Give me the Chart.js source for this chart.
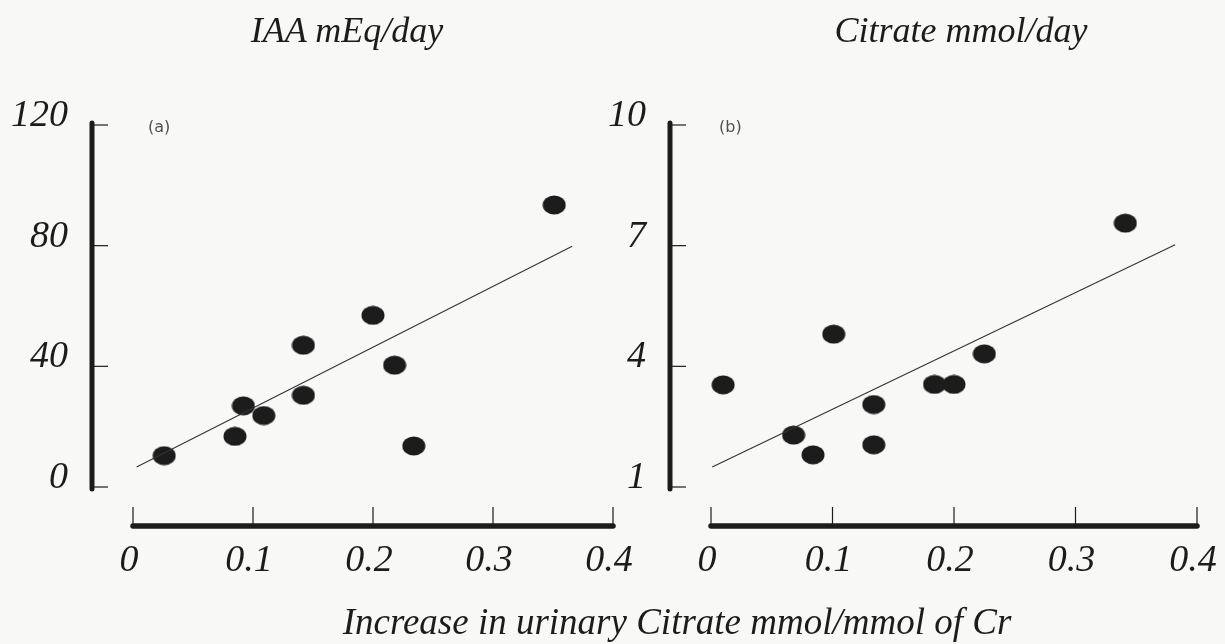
<!DOCTYPE html>
<html>
<head>
<meta charset="utf-8">
<script src="https://cdn.jsdelivr.net/npm/chart.js@4"></script>
<style>
  html, body { margin:0; padding:0; background:#f8f8f7; }
  body { width:1225px; height:644px; position:relative; overflow:hidden; }
  canvas { position:absolute; top:0; }
  #ca { left:0; }
  #cb { left:580px; }
  .ttl { position:absolute; font-family:'Liberation Serif', serif; font-style:italic; color:#1c1c1c;
         line-height:1; white-space:nowrap; transform:translateX(-50%); }
  .tag { position:absolute; font-family:'DejaVu Sans', sans-serif; font-size:16px; color:#505050; }
</style>
</head>
<body>
<canvas id="ca" width="640" height="644"></canvas>
<canvas id="cb" width="645" height="644"></canvas>
<div class="ttl" style="left:347px; top:12px; font-size:36px;">IAA mEq/day</div>
<div class="ttl" style="left:961px; top:12px; font-size:36px;">Citrate mmol/day</div>
<div class="ttl" style="left:677px; top:603px; font-size:37px;">Increase in urinary Citrate mmol/mmol of Cr</div>
<div class="tag" style="left:148px; top:117px;">(a)</div>
<div class="tag" style="left:719px; top:117px;">(b)</div>
<script>
// x axis (shared)
const X_TICKS = [0, 0.1, 0.2, 0.3, 0.4];
const X_LABELS = ['0', '0.1', '0.2', '0.3', '0.4'];

// (a) IAA mEq/day
const IAA_TICKS = [0, 40, 80, 120];
const IAA_X = [0.026, 0.085, 0.092, 0.109, 0.142, 0.142, 0.200, 0.218, 0.234, 0.351];
const IAA_Y = [10.4, 16.8, 26.9, 23.7, 30.4, 47.0, 56.9, 40.4, 13.6, 93.5];
const IAA_FIT_X = [0.003, 0.366];
const IAA_FIT_Y = [6.6, 79.8];

// (b) Citrate mmol/day
const CIT_TICKS = [1, 4, 7, 10];
const CIT_X = [0.010, 0.068, 0.084, 0.101, 0.134, 0.134, 0.184, 0.200, 0.225, 0.341];
const CIT_Y = [3.54, 2.29, 1.80, 4.80, 3.05, 2.05, 3.55, 3.55, 4.31, 7.56];
const CIT_FIT_X = [0.001, 0.382];
const CIT_FIT_Y = [1.50, 7.02];

const INK = '#1c1c1c';

// slightly flattened dot, like the printed figure
function makeDot(){
  const c = document.createElement('canvas');
  c.width = 24; c.height = 20;
  const g = c.getContext('2d');
  g.fillStyle = INK;
  g.beginPath();
  g.ellipse(12, 10, 11.5, 9.5, 0, 0, Math.PI*2);
  g.fill();
  return c;
}
const dot = makeDot();

// axes drawn apart from the plot area, positions taken from the scales
const detachedAxes = {
  id: 'detachedAxes',
  afterDraw(chart, args, opts){
    const {ctx, chartArea} = chart;
    const xs = chart.scales.x, ys = chart.scales.y;
    const axX = chartArea.left - opts.gapY;
    const axY = chartArea.bottom + opts.gapX;
    ctx.save();
    ctx.strokeStyle = INK;
    ctx.fillStyle = INK;
    ctx.lineCap = 'round';

    // y axis
    const yTop = ys.getPixelForValue(opts.yTicks[opts.yTicks.length-1]);
    const yBot = ys.getPixelForValue(opts.yTicks[0]);
    ctx.lineWidth = 5;
    ctx.beginPath(); ctx.moveTo(axX, yTop - 2); ctx.lineTo(axX, yBot + 2); ctx.stroke();
    ctx.lineWidth = 1.2; ctx.lineCap = 'butt';
    ctx.font = 'italic 38px "Liberation Serif"';
    ctx.textAlign = 'right'; ctx.textBaseline = 'alphabetic';
    opts.yTicks.forEach(v => {
      const py = ys.getPixelForValue(v);
      ctx.beginPath(); ctx.moveTo(axX, py); ctx.lineTo(axX + 16, py); ctx.stroke();
      ctx.fillText(String(v), axX - 24, py + 1);
    });

    // x axis
    const x0 = xs.getPixelForValue(X_TICKS[0]);
    const x1 = xs.getPixelForValue(X_TICKS[X_TICKS.length-1]);
    ctx.lineCap = 'round'; ctx.lineWidth = 5.5;
    ctx.beginPath(); ctx.moveTo(x0, axY); ctx.lineTo(x1, axY); ctx.stroke();
    ctx.lineWidth = 1.2; ctx.lineCap = 'butt';
    ctx.textAlign = 'center';
    X_TICKS.forEach((v, i) => {
      const px = xs.getPixelForValue(v);
      ctx.beginPath(); ctx.moveTo(px, axY); ctx.lineTo(px, axY - 19); ctx.stroke();
      ctx.fillText(X_LABELS[i], px - 4, axY + 45);
    });
    ctx.restore();
  }
};

function pts(xs, ys){ return xs.map((x, i) => ({x, y: ys[i]})); }

function makeChart(id, px, py, fx, fy, ticks, pad){
  return new Chart(document.getElementById(id), {
    type: 'scatter',
    data: {
      datasets: [
        { type: 'line', data: pts(fx, fy), borderColor: '#333', borderWidth: 1.1,
          pointRadius: 0, fill: false, tension: 0 },
        { data: pts(px, py), pointStyle: dot, pointRadius: 11, showLine: false }
      ]
    },
    plugins: [detachedAxes],
    options: {
      responsive: false,
      animation: false,
      events: [],
      layout: { padding: pad },
      scales: {
        x: { type: 'linear', min: X_TICKS[0], max: X_TICKS[X_TICKS.length-1], display: false },
        y: { type: 'linear', min: ticks[0], max: ticks[ticks.length-1], display: false }
      },
      plugins: {
        legend: { display: false },
        tooltip: { enabled: false },
        detachedAxes: { yTicks: ticks, gapY: 41, gapX: 39 }
      }
    }
  });
}

makeChart('ca', IAA_X, IAA_Y, IAA_FIT_X, IAA_FIT_Y, IAA_TICKS,
  { left: 133, right: 27, top: 125, bottom: 157 });
makeChart('cb', CIT_X, CIT_Y, CIT_FIT_X, CIT_FIT_Y, CIT_TICKS,
  { left: 131, right: 28, top: 125, bottom: 157 });
</script>
</body>
</html>
